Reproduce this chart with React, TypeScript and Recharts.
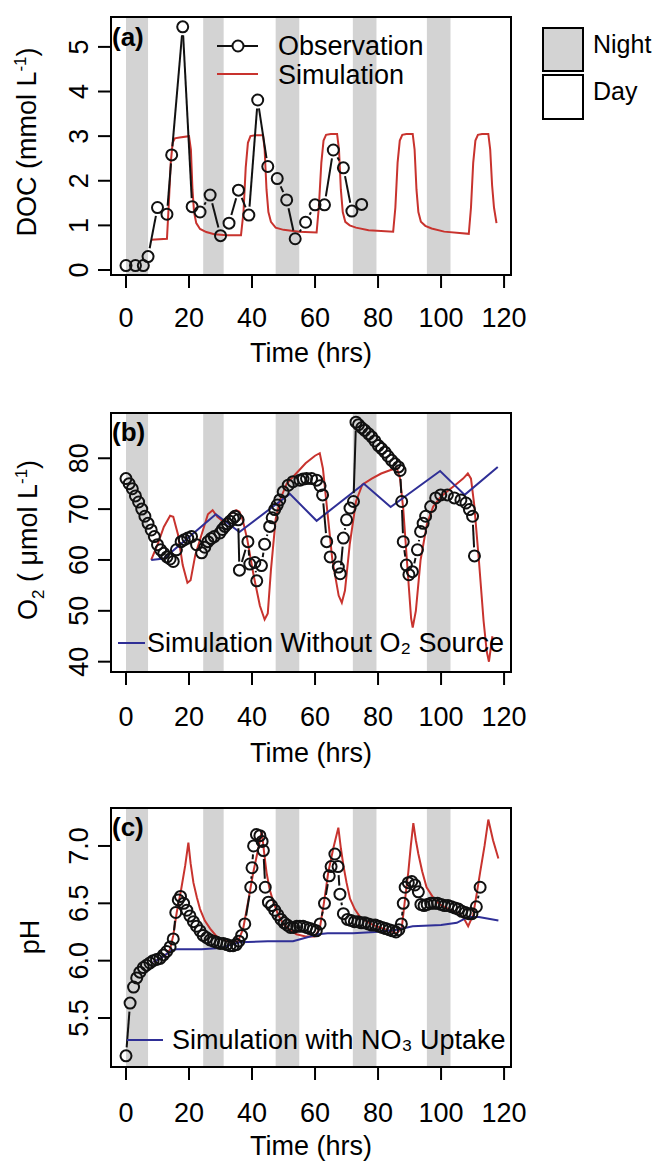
import React from "react";
import { ComposedChart, Line, XAxis, YAxis, ReferenceArea } from "recharts";

const FONT = '"Liberation Sans", Arial, Helvetica, sans-serif';
const RED = "#c8332e";
const BLUE = "#2f2f96";
const NIGHT = "#d3d3d3";

const PLOT_LEFT = 111;
const PLOT_RIGHT = 511;
const X_MIN = -4.76;
const X_MAX = 122.2;
const hourTicks = [0, 20, 40, 60, 80, 100, 120];
const nightStart = [0, 24.5, 47.5, 72, 95.5];
const nightEnd = [7, 31, 55, 79.5, 103];

// (a) DOC
const docTicks = [0, 1, 2, 3, 4, 5];
const docObsTime = [0, 3, 5.5, 7, 10, 13, 14.5, 18, 21, 23.5, 26.7, 30, 32.7, 35.7, 39, 41.8, 45, 48, 51, 53.7, 57, 60, 63, 65.8, 69, 71.7, 74.8];
const docObsValue = [0.1, 0.1, 0.1, 0.3, 1.4, 1.25, 2.58, 5.45, 1.42, 1.3, 1.68, 0.77, 1.05, 1.79, 1.23, 3.81, 2.32, 2.05, 1.57, 0.7, 1.07, 1.46, 1.46, 2.69, 2.29, 1.32, 1.47];
const docSimTime = [8, 13, 13.6, 14.2, 14.8, 15.5, 17, 20, 20.6, 21.1, 21.6, 22.3, 23.5, 25.5, 28, 32, 36.5, 37.3, 38, 38.7, 39.5, 41, 43.5, 44, 44.6, 45.2, 46, 47.5, 50, 55, 60.5, 61.2, 62, 62.7, 63.5, 65, 67, 67.6, 68.2, 68.8, 69.6, 71, 73, 77, 84.8, 85.5, 86.2, 86.9, 87.7, 89, 91, 91.6, 92.2, 92.8, 93.6, 95, 97, 101, 108.8, 109.5, 110.2, 110.9, 111.7, 113, 115, 115.6, 116.2, 116.8, 117.6];
const docSimValue = [0.68, 0.7, 1.5, 2.4, 2.85, 2.95, 2.97, 3.0, 2.7, 1.8, 1.3, 1.05, 0.92, 0.85, 0.8, 0.78, 0.78, 1.3, 2.3, 2.85, 3.0, 3.02, 3.02, 2.7, 1.8, 1.3, 1.08, 0.95, 0.9, 0.86, 0.84, 1.4, 2.4, 2.9, 3.03, 3.05, 3.05, 2.7, 1.8, 1.3, 1.08, 1.0, 0.95, 0.89, 0.86, 1.4, 2.4, 2.9, 3.03, 3.05, 3.05, 2.7, 1.8, 1.3, 1.08, 0.99, 0.93, 0.86, 0.81, 1.4, 2.4, 2.9, 3.03, 3.05, 3.05, 2.7, 1.9, 1.4, 1.05];

// (b) O2
const o2Ticks = [40, 50, 60, 70, 80];
const o2ObsTime = [0, 1, 2, 3, 4, 5, 6, 7, 8, 9, 10, 11, 12, 13, 14, 15, 16, 17.5, 18.5, 19.6, 20.8, 22.4, 24, 25, 26, 27, 28, 29.8, 30.6, 31.4, 32.2, 33, 34, 34.6, 35.6, 36, 38.7, 39.3, 40.9, 41.5, 43, 44, 45.6, 46.4, 47.2, 48, 48.8, 49.9, 51.5, 53, 55.2, 56.2, 57.3, 58.9, 60.5, 61.6, 62.4, 63.7, 64.8, 67.4, 68, 69, 70, 71.1, 72.2, 73, 73.8, 74.8, 75.8, 77, 78, 79, 80.1, 81.1, 82.2, 83.2, 84.3, 85.4, 86.5, 87, 87.5, 88, 89, 89.8, 90.9, 92.5, 93.5, 94.3, 95.1, 96.7, 98.3, 99.9, 102, 104.2, 106.3, 107.9, 109, 110, 110.6];
const o2ObsValue = [76.0, 75.0, 74.0, 72.6, 71.4, 70.0, 68.6, 67.2, 65.9, 64.6, 63.0, 62.0, 61.3, 60.6, 60.2, 59.7, 62.0, 63.6, 64.0, 64.3, 64.6, 63.0, 61.4, 62.5, 63.6, 64.2, 64.6, 65.3, 66.0, 66.6, 67.1, 67.6, 68.2, 68.6, 67.9, 58.0, 63.6, 59.2, 59.5, 55.9, 58.9, 63.1, 66.6, 68.3, 69.9, 70.8, 71.8, 73.4, 74.7, 75.4, 75.7, 75.9, 76.0, 76.0, 75.7, 74.6, 72.8, 63.6, 60.6, 58.6, 57.3, 64.3, 67.9, 70.2, 71.5, 87.1, 86.6, 86.0, 85.5, 84.8, 84.2, 83.4, 82.5, 81.9, 81.2, 80.4, 79.6, 78.9, 78.3, 77.6, 71.5, 63.6, 59.0, 57.1, 57.7, 62.0, 65.6, 67.2, 68.6, 70.5, 72.2, 72.8, 72.8, 72.2, 71.8, 71.2, 69.9, 68.6, 60.8];
const o2SimTime = [8, 10, 12, 14, 15, 16.5, 18, 19.5, 20.5, 22, 24, 26, 27.5, 29, 31, 33, 35, 36, 37, 38.5, 40.5, 42.5, 44, 45, 46, 47.5, 49, 51, 54, 57, 60, 61.5, 62.5, 63.5, 65.5, 67.5, 68.5, 69.5, 71, 73, 75, 78, 81, 84, 86, 87, 88, 89.5, 90.5, 91, 92, 93.5, 95.5, 97.5, 100, 102, 105, 107, 108.5, 109.5, 110.5, 112, 113.5, 114.5, 115.2, 116.3];
const o2SimValue = [60, 63, 66.5, 68.7, 68.5, 65, 59, 55.5, 56, 61, 65, 69, 69.8, 68.5, 67.5, 69, 69.8, 69.5, 68, 64, 57, 51, 48.3, 49.5, 58, 68, 72, 75, 77, 79, 80.5, 81, 78, 72, 60, 53, 51.6, 54, 63, 71.5, 74.8, 76, 77, 77.7, 78, 76, 70, 57, 48.5, 46.7, 50, 60, 67, 70.5, 72.5, 73.5, 75, 76, 77, 76, 71, 60, 48, 42, 40, 45];
const o2NoSrcTime = [8, 12, 28.5, 36, 52, 60.5, 75.5, 84, 99.7, 107.5, 118];
const o2NoSrcValue = [60, 60.3, 69, 65.5, 73, 67.7, 75, 70.4, 77.5, 72.8, 78.3];

// (c) pH
const phTicks = [5.5, 6.0, 6.5, 7.0];
const phObsTime = [0, 1.3, 2.4, 3.4, 4.4, 5.5, 6.5, 7.6, 8.6, 9.7, 10.8, 11.9, 12.9, 14, 15, 15.8, 16.6, 17.3, 18.3, 19.3, 20.3, 21.4, 22.4, 23.5, 24.5, 25.6, 26.7, 27.8, 28.8, 29.9, 30.9, 32, 33, 34, 35, 35.8, 36.7, 37.7, 39.6, 40, 40.5, 41.4, 42.5, 43.2, 43.6, 44.2, 45.2, 46.2, 47.2, 48.2, 49.2, 50.2, 51.2, 52.2, 53.2, 54.2, 55.2, 56.2, 57.3, 58.4, 59.4, 60.4, 61.6, 63, 64.5, 65.1, 66.3, 67.3, 67.9, 69, 70.3, 71.4, 72.5, 73.6, 74.7, 75.8, 76.9, 78, 79.1, 80.2, 81.3, 82.4, 83.5, 84.6, 85.7, 86.6, 87.4, 88, 88.6, 89.6, 90.7, 91.7, 92.8, 93.6, 94.6, 95.6, 96.7, 97.8, 98.9, 100, 101.1, 102.2, 103.3, 104.4, 105.5, 106.6, 107.7, 108.8, 109.8, 111.2, 112.4];
const phObsValue = [5.17, 5.63, 5.77, 5.85, 5.9, 5.94, 5.96, 5.98, 6.0, 6.01, 6.02, 6.05, 6.08, 6.12, 6.19, 6.42, 6.53, 6.56, 6.5, 6.44, 6.39, 6.34, 6.3, 6.26, 6.22, 6.2, 6.18, 6.17, 6.16, 6.15, 6.15, 6.14, 6.13, 6.13, 6.14, 6.17, 6.22, 6.32, 6.64, 6.81, 7.0, 7.1, 7.09, 7.04, 6.96, 6.64, 6.51, 6.48, 6.44, 6.4, 6.36, 6.33, 6.31, 6.29, 6.29, 6.3, 6.3, 6.3, 6.29, 6.28, 6.27, 6.26, 6.32, 6.5, 6.74, 6.82, 6.93, 6.82, 6.58, 6.41, 6.36, 6.35, 6.34, 6.34, 6.33, 6.33, 6.32, 6.31, 6.31, 6.3, 6.29, 6.28, 6.27, 6.26, 6.25, 6.27, 6.32, 6.5, 6.64, 6.68, 6.69, 6.66, 6.6, 6.49, 6.48, 6.49, 6.5, 6.5, 6.5, 6.49, 6.48, 6.48, 6.47, 6.46, 6.45, 6.43, 6.42, 6.41, 6.41, 6.47, 6.64];
const phSimTime = [8.7, 11, 13, 14, 15, 16.1, 17.5, 18.8, 19.8, 20.5, 21.4, 22.5, 23.5, 25, 26.7, 28.5, 30, 33, 35.6, 37.2, 38.8, 40.4, 42, 43.1, 43.8, 44.6, 45.6, 46.8, 48.3, 49.9, 52, 54.1, 57, 59.9, 61.5, 62.8, 64.2, 65.8, 67.4, 68.2, 69, 70, 71.1, 72.6, 74.3, 76.5, 78.5, 82.7, 85.9, 87.5, 88.5, 89.6, 90.4, 91.2, 92, 92.8, 94, 95.4, 97.5, 99.6, 103.8, 107, 108.6, 110.2, 111.3, 112.4, 113.8, 115, 116.5, 118.2];
const phSimValue = [5.99, 6.02, 6.06, 6.1, 6.22, 6.42, 6.62, 6.83, 7.03, 6.85, 6.68, 6.55, 6.45, 6.35, 6.28, 6.22, 6.19, 6.16, 6.17, 6.28, 6.52, 6.77, 6.98, 7.13, 6.95, 6.77, 6.62, 6.51, 6.4, 6.32, 6.27, 6.23, 6.21, 6.21, 6.28, 6.5, 6.77, 6.98, 7.16, 6.98, 6.83, 6.68, 6.54, 6.45, 6.38, 6.34, 6.31, 6.27, 6.24, 6.28, 6.52, 6.77, 7.0, 7.2, 7.05, 6.93, 6.78, 6.64, 6.55, 6.49, 6.43, 6.38, 6.3, 6.4, 6.58, 6.77, 7.0, 7.23, 7.05, 6.89];
const phNo3Time = [8.7, 11, 13, 14.5, 16, 24, 30, 36, 45, 53, 57, 61, 64, 72, 79, 86, 91, 100, 105, 108.5, 112, 118.2];
const phNo3Value = [5.99, 6.02, 6.06, 6.09, 6.1, 6.1, 6.11, 6.16, 6.17, 6.17, 6.2, 6.23, 6.24, 6.24, 6.25, 6.27, 6.3, 6.31, 6.33, 6.38, 6.38, 6.35];

type Pt = { t: number; v: number };
const zip = (t: number[], v: number[]): Pt[] => t.map((x, i) => ({ t: x, v: v[i] }));

const OBS_R = 5.5;
const GAP = 8.5;

// circles with short connecting segments that stop short of each circle (like R type="b")
function ObsDot(props: any) {
  const { cx, cy, index, points } = props;
  if (typeof cx !== "number" || typeof cy !== "number") return <g key={`o${index}`} />;
  const next = Array.isArray(points) ? points[index + 1] : undefined;
  let seg = null;
  if (next && typeof next.x === "number" && typeof next.y === "number") {
    const dx = next.x - cx;
    const dy = next.y - cy;
    const len = Math.hypot(dx, dy);
    if (len > 2 * GAP) {
      const ux = dx / len;
      const uy = dy / len;
      seg = (
        <line
          x1={cx + ux * GAP}
          y1={cy + uy * GAP}
          x2={next.x - ux * GAP}
          y2={next.y - uy * GAP}
          stroke="#111"
          strokeWidth={2}
        />
      );
    }
  }
  return (
    <g key={`o${index}`}>
      {seg}
      <circle cx={cx} cy={cy} r={OBS_R} fill="none" stroke="#111" strokeWidth={2} />
    </g>
  );
}

function RotTick(props: any) {
  const { x, y, payload, fmt } = props;
  return (
    <text x={x} y={y} transform={`rotate(-90 ${x} ${y})`} textAnchor="middle" fontSize={27} fill="#000">
      {fmt(payload.value)}
    </text>
  );
}

type PanelProps = {
  top: number;
  height: number;
  plotTop: number;
  plotBottom: number;
  tickMargin: number;
  titleBaseline: number;
  yDomain: [number, number];
  yTicks: number[];
  yFmt: (v: number) => string;
  obs: Pt[];
  sims: { data: Pt[]; color: string }[];
};

function Panel(p: PanelProps) {
  const margin = {
    top: p.plotTop - p.top,
    right: 656 - PLOT_RIGHT,
    left: 0,
    bottom: p.top + p.height - p.titleBaseline,
  };
  return (
    <div style={{ position: "absolute", left: 0, top: p.top }}>
      <ComposedChart width={656} height={p.height} margin={margin}>
        <XAxis
          dataKey="t"
          type="number"
          domain={[X_MIN, X_MAX]}
          allowDataOverflow
          ticks={hourTicks}
          interval={0}
          axisLine={false}
          tickLine={{ stroke: "#000", strokeWidth: 2 }}
          tickSize={13}
          tickMargin={p.tickMargin}
          tick={{ fontSize: 27, fill: "#000" }}
          height={p.titleBaseline - p.plotBottom}
          label={{ value: "Time (hrs)", position: "insideBottom", offset: 0, fontSize: 27, fill: "#000" }}
        />
        <YAxis
          type="number"
          domain={p.yDomain}
          allowDataOverflow
          ticks={p.yTicks}
          interval={0}
          axisLine={false}
          tickLine={{ stroke: "#000", strokeWidth: 2 }}
          tickSize={13}
          tickMargin={10}
          width={PLOT_LEFT}
          tick={(tp: any) => <RotTick {...tp} fmt={p.yFmt} />}
        />
        {nightStart.map((s, i) => (
          <ReferenceArea key={`n${i}`} x1={s} x2={nightEnd[i]} fill={NIGHT} fillOpacity={1} stroke="none" />
        ))}
        <Line data={p.obs} dataKey="v" stroke="none" dot={ObsDot} activeDot={false} isAnimationActive={false} />
        {p.sims.map((s, i) => (
          <Line
            key={`s${i}`}
            data={s.data}
            dataKey="v"
            type="linear"
            stroke={s.color}
            strokeWidth={2}
            dot={false}
            activeDot={false}
            isAnimationActive={false}
          />
        ))}
        <ReferenceArea
          x1={X_MIN}
          x2={X_MAX}
          y1={p.yDomain[0]}
          y2={p.yDomain[1]}
          fill="none"
          stroke="#000"
          strokeWidth={2}
          ifOverflow="visible"
        />
      </ComposedChart>
    </div>
  );
}

export default function App() {
  return (
    <div
      style={{
        position: "absolute",
        left: 0,
        top: 0,
        width: 656,
        height: 1163,
        background: "#fff",
        fontFamily: FONT,
        overflow: "hidden",
      }}
    >
      <Panel
        top={0}
        height={380}
        plotTop={17}
        plotBottom={275}
        tickMargin={20}
        titleBaseline={362}
        yDomain={[-0.112, 5.67]}
        yTicks={docTicks}
        yFmt={(v) => String(v)}
        obs={zip(docObsTime, docObsValue)}
        sims={[{ data: zip(docSimTime, docSimValue), color: RED }]}
      />
      <Panel
        top={380}
        height={400}
        plotTop={413}
        plotBottom={672}
        tickMargin={22}
        titleBaseline={762}
        yDomain={[37.97, 88.9]}
        yTicks={o2Ticks}
        yFmt={(v) => String(v)}
        obs={zip(o2ObsTime, o2ObsValue)}
        sims={[
          { data: zip(o2SimTime, o2SimValue), color: RED },
          { data: zip(o2NoSrcTime, o2NoSrcValue), color: BLUE },
        ]}
      />
      <Panel
        top={780}
        height={383}
        plotTop={808}
        plotBottom={1067}
        tickMargin={23}
        titleBaseline={1155}
        yDomain={[5.073, 7.331]}
        yTicks={phTicks}
        yFmt={(v) => v.toFixed(1)}
        obs={zip(phObsTime, phObsValue)}
        sims={[
          { data: zip(phSimTime, phSimValue), color: RED },
          { data: zip(phNo3Time, phNo3Value), color: BLUE },
        ]}
      />
      <svg
        width={656}
        height={1163}
        style={{ position: "absolute", left: 0, top: 0, pointerEvents: "none" }}
        fontFamily={FONT}
      >
        {/* y titles */}
        <text transform="translate(36,142) rotate(-90)" textAnchor="middle" fontSize={27} fill="#000">
          DOC (mmol L<tspan dy={-10} fontSize={17}>-1</tspan>
          <tspan dy={10}>)</tspan>
        </text>
        <text transform="translate(37,540) rotate(-90)" textAnchor="middle" fontSize={27} fill="#000">
          O<tspan dy={7} fontSize={17}>2</tspan>
          <tspan dy={-7}> ( μmol L</tspan>
          <tspan dy={-10} fontSize={17}>-1</tspan>
          <tspan dy={10}>)</tspan>
        </text>
        <text transform="translate(39,937) rotate(-90)" textAnchor="middle" fontSize={27} fill="#000">
          pH
        </text>

        {/* panel tags */}
        <text x={112} y={46} fontSize={26} fontWeight="bold" fill="#000">(a)</text>
        <text x={112} y={441} fontSize={26} fontWeight="bold" fill="#000">(b)</text>
        <text x={112} y={836} fontSize={26} fontWeight="bold" fill="#000">(c)</text>

        {/* legend (a) */}
        <line x1={217} y1={46} x2={258} y2={46} stroke="#111" strokeWidth={2} />
        <circle cx={238} cy={46} r={OBS_R} fill="#fff" stroke="#111" strokeWidth={2} />
        <text x={278} y={55} fontSize={27} fill="#000">Observation</text>
        <line x1={217} y1={74} x2={258} y2={74} stroke={RED} strokeWidth={2} />
        <text x={278} y={84} fontSize={27} fill="#000">Simulation</text>

        {/* night / day */}
        <rect x={543} y={28} width={40} height={43} fill={NIGHT} stroke="#000" strokeWidth={2} />
        <rect x={543} y={75} width={40} height={44} fill="#fff" stroke="#000" strokeWidth={2} />
        <text x={593} y={53} fontSize={25} fill="#000">Night</text>
        <text x={593} y={100} fontSize={25} fill="#000">Day</text>

        {/* legend (b) */}
        <line x1={118} y1={643} x2={145} y2={643} stroke={BLUE} strokeWidth={2} />
        <text x={147} y={652} fontSize={27} fill="#000">Simulation Without O₂ Source</text>

        {/* legend (c) */}
        <line x1={127} y1={1040} x2={163} y2={1040} stroke={BLUE} strokeWidth={2} />
        <text x={172} y={1049} fontSize={27} fill="#000">Simulation with NO₃ Uptake</text>
      </svg>
    </div>
  );
}
